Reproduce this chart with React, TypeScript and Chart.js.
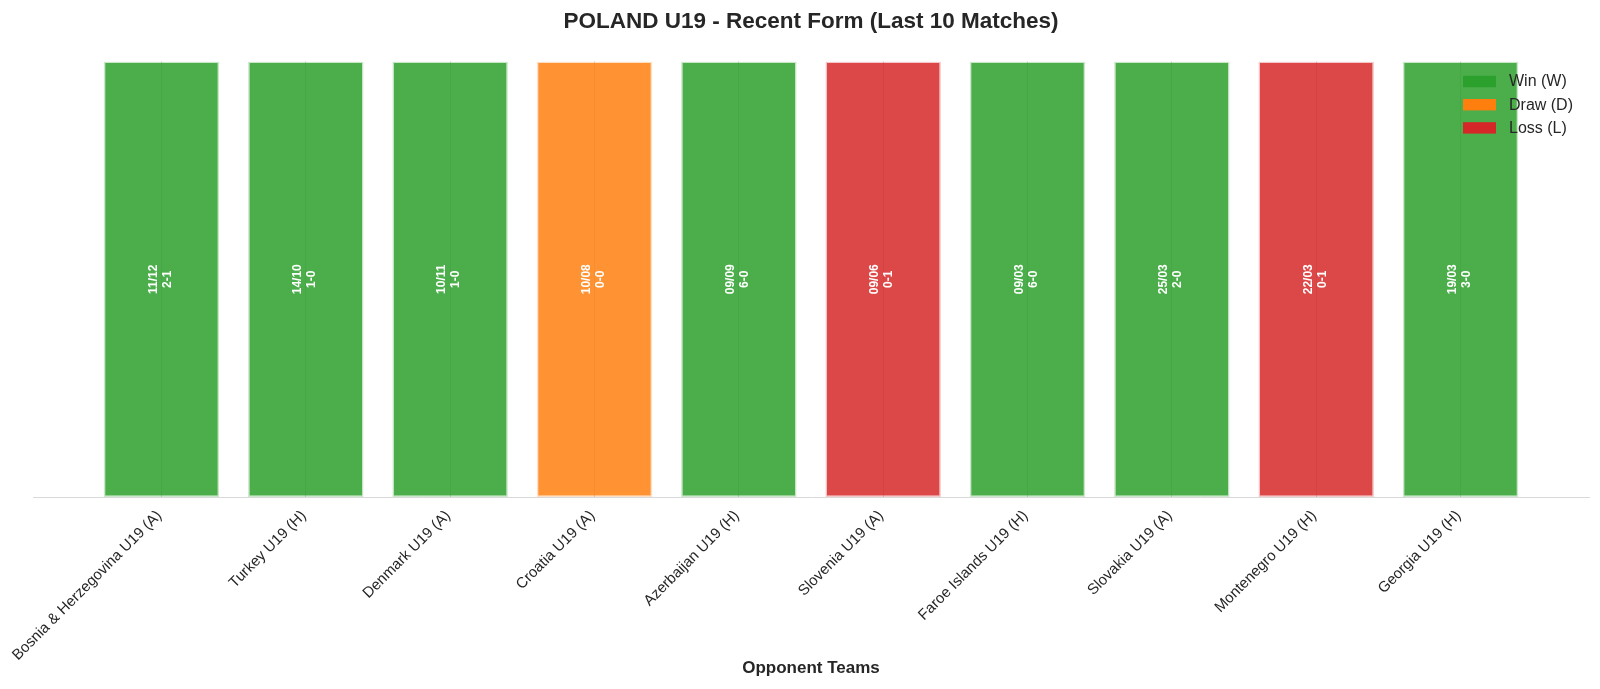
import React, { useEffect, useRef } from "react";
import { Chart, registerables } from "chart.js";

Chart.register(...registerables);

const opponents = [
  "Bosnia & Herzegovina U19 (A)",
  "Turkey U19 (H)",
  "Denmark U19 (A)",
  "Croatia U19 (A)",
  "Azerbaijan U19 (H)",
  "Slovenia U19 (A)",
  "Faroe Islands U19 (H)",
  "Slovakia U19 (A)",
  "Montenegro U19 (H)",
  "Georgia U19 (H)",
];
const results = ["W", "W", "W", "D", "W", "L", "W", "W", "L", "W"];
const dates = ["11/12", "14/10", "10/11", "10/08", "09/09", "09/06", "09/03", "25/03", "22/03", "19/03"];
const scores = ["2-1", "1-0", "1-0", "0-0", "6-0", "0-1", "6-0", "2-0", "0-1", "3-0"];
const formValue = 1;

const legendLabels = ["Win (W)", "Draw (D)", "Loss (L)"];
const legendKeys = ["W", "D", "L"];

const solidColors: Record<string, string> = { W: "#2ca02c", D: "#ff7f0e", L: "#d62728" };
const fillColors: Record<string, string> = {
  W: "rgba(44,160,44,0.85)",
  D: "rgba(255,127,14,0.85)",
  L: "rgba(214,39,40,0.85)",
};
const edgeColors: Record<string, string> = {
  W: "rgba(44,160,44,0.25)",
  D: "rgba(255,127,14,0.25)",
  L: "rgba(214,39,40,0.25)",
};

const FONT = "'Liberation Sans', Arial, Helvetica, sans-serif";
const TEXT = "#262626";

const barLabelPlugin = {
  id: "barLabels",
  afterDatasetsDraw(chart: any) {
    const ctx = chart.ctx;
    const meta = chart.getDatasetMeta(0);
    meta.data.forEach((bar: any, i: number) => {
      const p = bar.getProps(["x", "y", "base"], true);
      const cy = (p.y + p.base) / 2;
      ctx.save();
      ctx.translate(p.x - 1, cy);
      ctx.rotate(-Math.PI / 2);
      ctx.fillStyle = "#ffffff";
      ctx.font = `bold 12px ${FONT}`;
      ctx.textAlign = "center";
      ctx.textBaseline = "middle";
      ctx.fillText(dates[i], 0, -7);
      ctx.fillText(scores[i], 0, 7);
      ctx.restore();
    });
  },
};

const legendPlugin = {
  id: "customLegend",
  afterDraw(chart: any) {
    const ctx = chart.ctx;
    const area = chart.chartArea;
    const boxX = area.right - 126;
    const top = area.top + 20;
    ctx.save();
    legendLabels.forEach((lab, k) => {
      const cy = top + k * 23.2;
      ctx.fillStyle = solidColors[legendKeys[k]];
      ctx.fillRect(boxX, cy - 5.7, 33, 11.4);
      ctx.fillStyle = TEXT;
      ctx.font = `16px ${FONT}`;
      ctx.textAlign = "left";
      ctx.textBaseline = "middle";
      ctx.fillText(lab, boxX + 46, cy + 0.5);
    });
    ctx.restore();
  },
};

export default function App() {
  const ref = useRef<HTMLCanvasElement | null>(null);

  useEffect(() => {
    document.body.style.margin = "0";
    if (!ref.current) return;
    const chart = new Chart(ref.current, {
      type: "bar",
      data: {
        datasets: [
          {
            label: "Form",
            data: opponents.map((_, i) => ({ x: i, y: formValue })),
            backgroundColor: results.map((r) => fillColors[r]),
            borderColor: results.map((r) => edgeColors[r]),
            borderWidth: 1.5,
            borderSkipped: false,
            barPercentage: 0.8,
            categoryPercentage: 1.0,
          },
        ],
      },
      options: {
        animation: false,
        responsive: true,
        maintainAspectRatio: false,
        layout: { padding: { left: 33, right: 11, top: 0, bottom: 0 } },
        plugins: {
          legend: { display: false },
          tooltip: { enabled: false },
          title: {
            display: true,
            text: "POLAND U19 - Recent Form (Last 10 Matches)",
            color: TEXT,
            font: { family: FONT, size: 22.5, weight: "bold" },
            padding: { top: 8.5, bottom: 26 },
          },
        },
        scales: {
          x: {
            type: "linear",
            offset: false,
            min: -0.89,
            max: 9.89,
            afterBuildTicks: (scale: any) => {
              scale.ticks = opponents.map((_, i) => ({ value: i }));
            },
            afterFit: (scale: any) => {
              scale.height = 192;
            },
            ticks: {
              autoSkip: false,
              maxRotation: 45,
              minRotation: 45,
              padding: 10,
              labelOffset: -2,
              color: TEXT,
              font: { family: FONT, size: 15 },
              callback: (v: any) => opponents[v] ?? "",
            },
            grid: {
              display: true,
              offset: false,
              color: "#d4d4d4",
              lineWidth: 1,
              drawTicks: false,
            },
            border: { display: true, color: "#d9d9d9", width: 1 },
            title: {
              display: true,
              text: "Opponent Teams",
              color: TEXT,
              font: { family: FONT, size: 17, weight: "bold" },
              padding: { top: 4, bottom: 10 },
            },
          },
          y: {
            display: false,
            min: 0,
            max: 1,
          },
        },
      },
      plugins: [barLabelPlugin, legendPlugin],
    });
    return () => chart.destroy();
  }, []);

  return (
    <div style={{ position: "absolute", left: 0, top: 0, width: 1600, height: 689, background: "#fff" }}>
      <canvas ref={ref} />
    </div>
  );
}
